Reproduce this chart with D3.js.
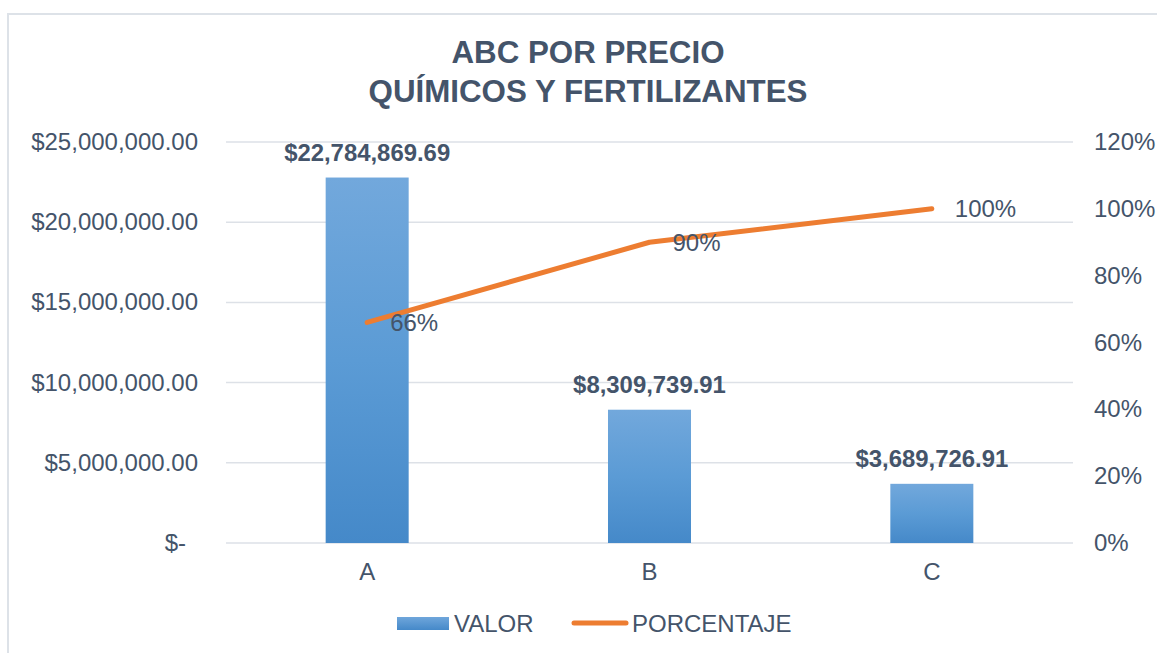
<!DOCTYPE html>
<html>
<head>
<meta charset="utf-8">
<script src="https://cdn.jsdelivr.net/npm/d3@7"></script>
<style>
  html, body { margin: 0; padding: 0; background: #fff; }
  svg { display: block; font-family: "Liberation Sans", Arial, sans-serif; }
</style>
</head>
<body>
<svg id="chart" width="1157" height="653"></svg>
<script>
const categories = ["A", "B", "C"];
const valores = [22784869.69, 8309739.91, 3689726.91];
const porcentajes = [0.66, 0.90, 1.00];
const leftTicks = [0, 5000000, 10000000, 15000000, 20000000, 25000000];
const rightTicks = [0, 0.2, 0.4, 0.6, 0.8, 1.0, 1.2];
const titleLines = ["ABC POR PRECIO", "QUÍMICOS Y FERTILIZANTES"];
const legendLabels = ["VALOR", "PORCENTAJE"];

const svg = d3.select("#chart");
const textColor = "#44546a";
const gridColor = "#dde1e7";
const fs = "24px";

// chart border
svg.append("rect")
  .attr("x", 8).attr("y", 14).attr("width", 1300).attr("height", 800)
  .attr("fill", "#fff").attr("stroke", "#dde2e8").attr("stroke-width", 2);

const plot = { left: 226, right: 1073, top: 142, bottom: 543 };

const x = d3.scaleBand().domain(categories).range([plot.left, plot.right]).padding(0);
const yL = d3.scaleLinear().domain([0, 25000000]).range([plot.bottom, plot.top]);
const yR = d3.scaleLinear().domain([0, 1.2]).range([plot.bottom, plot.top]);

// gradient
const defs = svg.append("defs");
const grad = defs.append("linearGradient").attr("id", "barGrad")
  .attr("x1", 0).attr("y1", 0).attr("x2", 0).attr("y2", 1);
grad.append("stop").attr("offset", "0%").attr("stop-color", "#72a8dc");
grad.append("stop").attr("offset", "50%").attr("stop-color", "#5b9bd5");
grad.append("stop").attr("offset", "100%").attr("stop-color", "#4589c9");
const lgrad = defs.append("linearGradient").attr("id", "legGrad")
  .attr("x1", 0).attr("y1", 0).attr("x2", 0).attr("y2", 1);
lgrad.append("stop").attr("offset", "0%").attr("stop-color", "#6fa6db");
lgrad.append("stop").attr("offset", "100%").attr("stop-color", "#4589c9");

// gridlines
svg.append("g").selectAll("line").data(leftTicks).join("line")
  .attr("x1", plot.left).attr("x2", plot.right)
  .attr("y1", d => yL(d)).attr("y2", d => yL(d))
  .attr("stroke", gridColor).attr("stroke-width", 1.5);

// left axis labels
const fmtMoney = d => d === 0 ? "$-" : "$" + d3.format(",.2f")(d);
svg.append("g").selectAll("text").data(leftTicks).join("text")
  .attr("x", d => d === 0 ? 186 : 198).attr("y", d => yL(d) + 8)
  .attr("text-anchor", "end").attr("fill", textColor)
  .attr("font-size", fs).text(fmtMoney);

// right axis labels
svg.append("g").selectAll("text").data(rightTicks).join("text")
  .attr("x", 1094).attr("y", d => yR(d) + 8)
  .attr("text-anchor", "start").attr("fill", textColor)
  .attr("font-size", fs).text(d => Math.round(d * 100) + "%");

// category labels
svg.append("g").selectAll("text").data(categories).join("text")
  .attr("x", d => x(d) + x.bandwidth() / 2).attr("y", 580)
  .attr("text-anchor", "middle").attr("fill", textColor)
  .attr("font-size", fs).text(d => d);

// bars
const barW = x.bandwidth() * 0.294;
svg.append("g").selectAll("rect").data(valores).join("rect")
  .attr("x", (d, i) => x(categories[i]) + x.bandwidth() / 2 - barW / 2)
  .attr("width", barW)
  .attr("y", d => yL(d))
  .attr("height", d => yL(0) - yL(d))
  .attr("fill", "url(#barGrad)");

// bar labels
svg.append("g").selectAll("text").data(valores).join("text")
  .attr("x", (d, i) => x(categories[i]) + x.bandwidth() / 2)
  .attr("y", d => yL(d) - 16.5)
  .attr("text-anchor", "middle").attr("fill", textColor)
  .attr("font-size", "23.9px").attr("font-weight", "bold")
  .text(d => "$" + d3.format(",.2f")(d));

// line
const line = d3.line()
  .x((d, i) => x(categories[i]) + x.bandwidth() / 2)
  .y(d => yR(d));
svg.append("path").datum(porcentajes)
  .attr("d", line).attr("fill", "none")
  .attr("stroke", "#ed7d31").attr("stroke-width", 5)
  .attr("stroke-linecap", "round").attr("stroke-linejoin", "round");

// line labels
svg.append("g").selectAll("text").data(porcentajes).join("text")
  .attr("x", (d, i) => x(categories[i]) + x.bandwidth() / 2 + 23)
  .attr("y", d => yR(d) + 8.5)
  .attr("text-anchor", "start").attr("fill", textColor)
  .attr("font-size", fs)
  .text(d => Math.round(d * 100) + "%");

// title
svg.append("text")
  .attr("x", 588).attr("text-anchor", "middle").attr("fill", textColor)
  .attr("font-size", "31.3px").attr("font-weight", "bold")
  .selectAll("tspan").data(titleLines).join("tspan")
  .attr("x", 588).attr("y", (d, i) => 63 + i * 38.7).text(d => d);

// legend
const leg = svg.append("g");
leg.append("rect").attr("x", 397).attr("y", 617).attr("width", 52).attr("height", 13)
  .attr("fill", "url(#legGrad)");
leg.append("text").attr("x", 454).attr("y", 632).attr("fill", textColor)
  .attr("font-size", fs).text(legendLabels[0]);
leg.append("line").attr("x1", 574).attr("x2", 626).attr("y1", 623).attr("y2", 623)
  .attr("stroke", "#ed7d31").attr("stroke-width", 5).attr("stroke-linecap", "round");
leg.append("text").attr("x", 632).attr("y", 632).attr("fill", textColor)
  .attr("font-size", fs).text(legendLabels[1]);
</script>
</body>
</html>
